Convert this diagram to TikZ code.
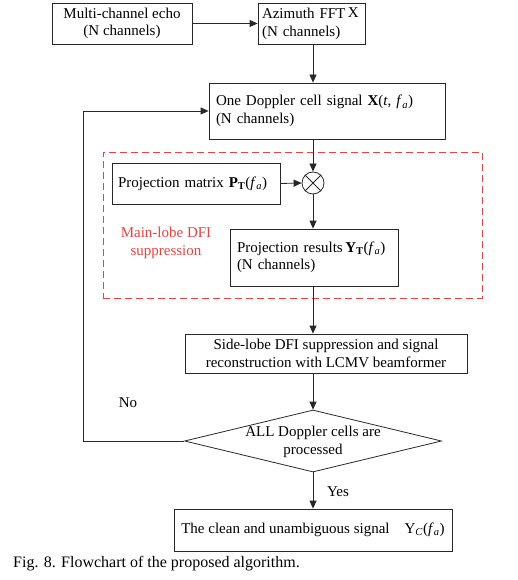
\documentclass[tikz,border=0pt]{standalone}
\usepackage{fontspec}
\setmainfont{Liberation Serif}
\usetikzlibrary{shapes.geometric,arrows.meta}
\definecolor{redd}{RGB}{238,64,64}
\definecolor{edge}{RGB}{40,40,40}
\newcommand{\fsub}{\textit{f}\textsubscript{\textit{a}}}
\begin{document}
\begin{tikzpicture}[x=1pt,y=-1pt,
  font=\fontsize{15}{17.5}\selectfont,
  box/.style={draw=edge, line width=0.8pt, rectangle, inner xsep=7pt, inner ysep=0pt},
  lbox/.style={box, align=left},
  arr/.style={draw=edge, line width=0.8pt, -{Triangle[length=8pt,width=7pt]}},
  ln/.style={draw=edge, line width=0.8pt}]
\useasboundingbox (0,0) rectangle (517,580);
\coordinate (ax) at (313,0);
\coordinate (lp) at (83,0);
% group
\node[draw=redd, dash pattern=on 7pt off 4pt, line width=0.9pt, minimum width=379pt, minimum height=146pt, inner sep=0pt] (grp) at (292.5,225) {};
\node[text=redd, align=center] (ml) at (166,243) {Main-lobe DFI\\suppression};
% boxes
\node[box, align=center, minimum width=140pt, minimum height=41pt] (b1) at (122,23.5) {Multi-channel echo\\(N channels)};
\node[lbox, inner xsep=4pt, text width=99pt, minimum height=41pt] (b2) at (311.5,23.5) {Azimuth FFT\,\raisebox{1pt}{X}\\(N channels)};
\node[lbox, text width=222pt, minimum height=56pt] (b3) at (327,111) {One Doppler cell signal \textbf{X}(\textit{t}, \fsub)\\(N channels)};
\node[lbox, inner xsep=6pt, text width=156pt, minimum height=41pt] (pm) at (196,183.5) {Projection matrix \textbf{P}\textsubscript{\textbf{T}}(\fsub)};
\node[draw=edge, line width=0.8pt, circle, minimum size=22pt, inner sep=0pt] (mul) at (313,183) {};
\draw[ln] (mul.north west) -- (mul.south east);
\draw[ln] (mul.north east) -- (mul.south west);
\node[lbox, text width=154pt, minimum height=57pt] (pr) at (314,257.5) {Projection results\,\textbf{Y}\textsubscript{\textbf{T}}(\fsub)\\(N channels)};
\node[box, align=center, minimum width=282pt, minimum height=39pt] (sl) at (326,353.5) {Side-lobe DFI suppression and signal\\reconstruction with LCMV beamformer};
\node[draw=edge, line width=0.8pt, diamond, minimum width=257pt, minimum height=62pt, inner sep=0pt] (d) at (313,441) {};
\node[align=center, inner sep=0pt] (dt) at (313,442) {ALL Doppler cells are\\processed};
\node[box, align=center, minimum width=278pt, minimum height=42pt] (fin) at (313,530) {The clean and unambiguous signal\quad Y\textsubscript{\textit{C}}(\fsub)};
% labels
\node (no) at (128,403) {No};
\node (yes) at (338,492) {Yes};
\node[anchor=west, inner sep=0pt, font=\fontsize{16}{19}\selectfont] (cap) at (13,564) {Fig. 8. Flowchart of the proposed algorithm.};
% connectors
\draw[arr] (b1.east) -- (b2.west);
\draw[arr] (b2.south -| ax) -- (b3.north -| ax);
\draw[arr] (b3.south -| ax) -- (mul.north);
\draw[arr] (pm.east) -- (mul.west);
\draw[arr] (mul.south) -- (pr.north -| ax);
\draw[arr] (pr.south -| ax) -- (sl.north -| ax);
\draw[arr] (sl.south -| ax) -- (d.north);
\draw[arr] (d.south) -- (fin.north);
\draw[arr] (d.west) -- (d.west -| lp) -- (b3.west -| lp) -- (b3.west);
\end{tikzpicture}
\end{document}
